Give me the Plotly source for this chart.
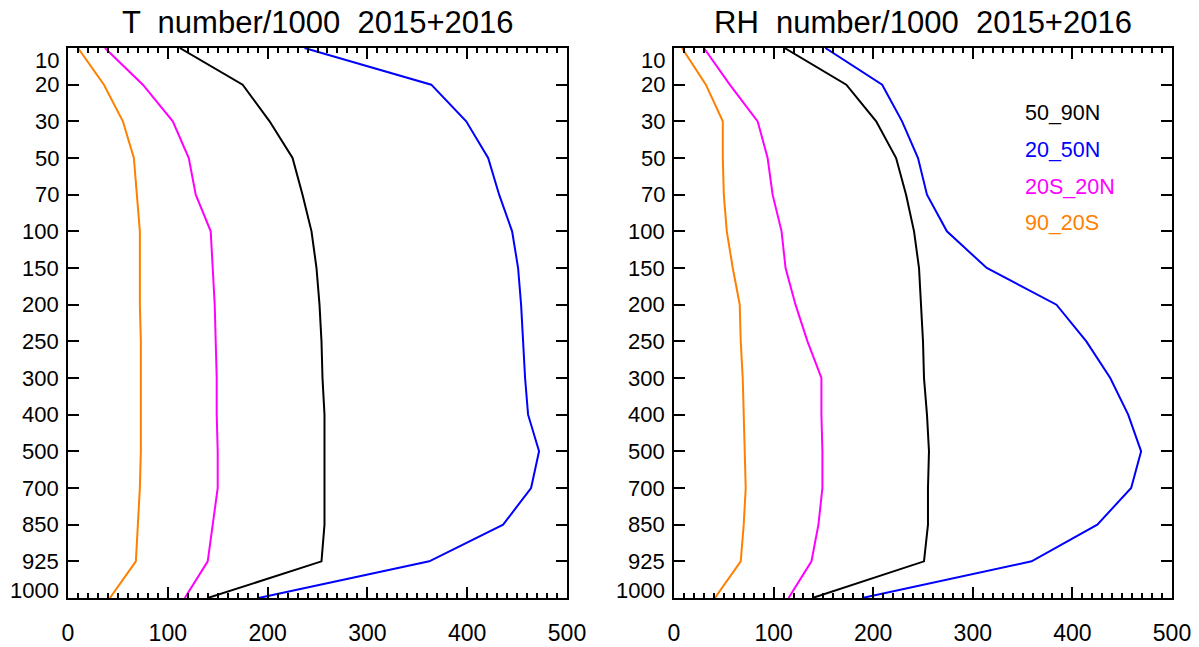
import plotly.graph_objects as go

levels = [10, 20, 30, 50, 70, 100, 150, 200, 250, 300, 400, 500, 700, 850, 925, 1000]
series_names = ["50_90N", "20_50N", "20S_20N", "90_20S"]
series_colors = ["#000000", "#0000FF", "#FF00FF", "#FF8000"]

# T number/1000
t_50_90N = [112, 175, 202, 225, 235, 244, 249, 252, 254, 255, 257, 257, 257, 257, 254, 140]
t_20_50N = [237, 364, 399, 421, 432, 445, 451, 454, 456, 458, 461, 472, 464, 436, 362, 191]
t_20S_20N = [37, 75, 105, 121, 128, 143, 145, 147, 148, 149, 149, 150, 150, 145, 140, 117]
t_90_20S = [10, 36, 55, 66, 69, 72, 72, 72, 73, 73, 73, 73, 72, 70, 68, 42]

# RH number/1000
rh_50_90N = [111, 173, 203, 223, 233, 241, 246, 248, 250, 251, 254, 256, 255, 255, 251, 139]
rh_20_50N = [152, 209, 229, 245, 254, 274, 314, 384, 414, 438, 456, 469, 459, 425, 359, 189]
rh_20S_20N = [30, 56, 84, 94, 99, 108, 112, 122, 134, 148, 148, 149, 149, 145, 138, 115]
rh_90_20S = [8, 32, 49, 49, 50, 53, 59, 66, 67, 69, 70, 71, 72, 70, 67, 41]

titles = ["T  number/1000  2015+2016", "RH  number/1000  2015+2016"]
x_ticks = [0, 100, 200, 300, 400, 500]

panels = [
    [t_50_90N, t_20_50N, t_20S_20N, t_90_20S],
    [rh_50_90N, rh_20_50N, rh_20S_20N, rh_90_20S],
]

FONT = "Liberation Sans, Arial, Helvetica, sans-serif"
TICK_SIZE = 22
idx = list(range(len(levels)))

fig = go.Figure()
for p, data in enumerate(panels):
    xa = "x" if p == 0 else "x2"
    ya = "y" if p == 0 else "y2"
    for name, color, vals in zip(series_names, series_colors, data):
        fig.add_trace(go.Scatter(
            x=vals, y=idx, mode="lines", name=name,
            line=dict(color=color, width=2),
            xaxis=xa, yaxis=ya, showlegend=False,
        ))

W, H = 1199, 647
ml, mr, mt, mb = 68, 27, 48, 49
pw = W - ml - mr
d1 = [0, (567 - 68) / pw]
d2 = [(674 - 68) / pw, 1]

axis_common = dict(showgrid=False, zeroline=False, showline=True, linecolor="black",
                   linewidth=2, mirror="ticks", ticks="inside", tickcolor="black",
                   automargin=False)

xaxis_common = dict(axis_common, range=[0, 500], tickvals=x_ticks, ticklen=11, tickwidth=2,
                    minor=dict(dtick=10, ticks="inside", ticklen=5, tickwidth=2, tickcolor="black", showgrid=False),
                    tickfont=dict(family=FONT, size=TICK_SIZE + 1, color="black"), ticklabelstandoff=13)
yaxis_common = dict(axis_common, range=[len(levels) - 1, 0], tickvals=idx, ticklen=11, tickwidth=2,
                    showticklabels=False)

fig.update_layout(
    template="none",
    width=W, height=H,
    margin=dict(l=ml, r=mr, t=mt, b=mb, pad=0),
    plot_bgcolor="white", paper_bgcolor="white",
    xaxis=dict(xaxis_common, domain=d1, anchor="y"),
    yaxis=dict(yaxis_common, domain=[0, 1], anchor="x"),
    xaxis2=dict(xaxis_common, domain=d2, anchor="y2"),
    yaxis2=dict(yaxis_common, domain=[0, 1], anchor="x2"),
)

annotations = []
# y tick labels
for ax in ["x", "x2"]:
    ya = "y" if ax == "x" else "y2"
    for i, lv in enumerate(levels):
        shift = 0
        if i == 0:
            shift = -12
        elif i == len(levels) - 1:
            shift = 8
        annotations.append(dict(
            x=0, xref=ax + " domain", y=i, yref=ya, text=str(lv), showarrow=False,
            xanchor="right", yanchor="middle", xshift=-7, yshift=shift,
            font=dict(family=FONT, size=TICK_SIZE, color="black"),
        ))
# titles
for ax, t in zip(["x", "x2"], titles):
    annotations.append(dict(
        x=0.5, xref=ax + " domain", y=1, yref="paper", text=t, showarrow=False,
        xanchor="center", yanchor="bottom", yshift=6,
        font=dict(family=FONT, size=31, color="black"),
    ))
# legend text in right panel
leg_y = [113, 150, 187, 223]
for name, color, py in zip(series_names, series_colors, leg_y):
    annotations.append(dict(
        x=(1023 - 674) / (1172 - 674), xref="x2 domain", y=1 - (py - mt) / (H - mt - mb), yref="paper",
        text=name, showarrow=False, xanchor="left", yanchor="middle",
        font=dict(family=FONT, size=21.5, color=color),
    ))
fig.update_layout(annotations=annotations)

fig.write_html("out.html")
